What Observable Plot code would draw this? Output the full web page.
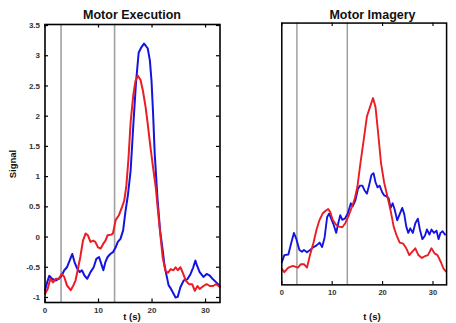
<!DOCTYPE html>
<html>
<head>
<meta charset="utf-8">
<script src="https://cdn.jsdelivr.net/npm/d3@7"></script>
<script src="https://cdn.jsdelivr.net/npm/@observablehq/plot@0.6"></script>
<style>
  html, body { margin: 0; padding: 0; background: #fff; }
  #wrap { position: relative; width: 456px; height: 323px; overflow: hidden; background: #fff;
          font-family: "Liberation Sans", Arial, Helvetica, sans-serif; }
  .panel { position: absolute; top: 0; }
  .lbl { position: absolute; font-weight: bold; color: #111; white-space: nowrap; line-height: 1; }
  .title { font-size: 12.5px; top: 9px; transform: translateX(-50%); }
  .xlab { font-size: 9.5px; top: 312px; transform: translateX(-50%); }
  .ylab { font-size: 9.5px; left: 13px; top: 164px; transform: translate(-50%, -50%) rotate(-90deg); }
</style>
</head>
<body>
<div id="wrap">
  <div class="panel" id="left"></div>
  <div class="panel" id="right" style="left:230px"></div>
  <div class="lbl title" style="left:132px">Motor Execution</div>
  <div class="lbl title" style="left:372.5px">Motor Imagery</div>
  <div class="lbl xlab" style="left:132px">t (s)</div>
  <div class="lbl xlab" style="left:372px">t (s)</div>
  <div class="lbl ylab">Signal</div>
</div>
<script>
// ---- data ----
const titles = ["Motor Execution", "Motor Imagery"];
const xTicks = [0, 10, 20, 30];
const yTicks = [-1, -0.5, 0, 0.5, 1, 1.5, 2, 2.5, 3, 3.5];
const markers = [3, 13];

// Motor Execution – blue
const execBlueT = [0, 0.4, 0.8, 1.3, 2.0, 2.6, 3.1, 3.6, 4.1, 4.6, 5.1, 5.5, 6.0, 6.5, 6.9, 7.4, 7.9, 8.5, 9.1, 9.6, 10.1, 10.5, 10.9, 11.3, 11.7, 12.2, 12.7, 13.2, 13.6, 14.1, 14.6, 15.0, 15.5, 16.0, 16.5, 17.0, 17.5, 18.0, 18.5, 18.8, 19.2, 19.6, 19.9, 20.2, 20.5, 21.0, 21.5, 22.0, 22.3, 22.7, 23.1, 23.5, 23.8, 24.4, 24.8, 25.3, 25.9, 26.6, 27.2, 27.7, 28.1, 28.4, 28.9, 29.6, 30.2, 30.8, 31.4, 32.0, 32.7];
const execBlueV = [-0.88, -0.75, -0.64, -0.69, -0.72, -0.69, -0.64, -0.55, -0.5, -0.39, -0.28, -0.41, -0.52, -0.58, -0.55, -0.64, -0.69, -0.58, -0.5, -0.36, -0.33, -0.44, -0.55, -0.41, -0.33, -0.28, -0.25, -0.17, -0.08, -0.03, 0.11, 0.4, 0.7, 1.1, 1.85, 2.55, 3.05, 3.14, 3.2, 3.17, 3.12, 2.92, 2.59, 2.04, 1.38, 0.66, 0.11, -0.22, -0.45, -0.63, -0.8, -0.85, -0.9, -1.0, -0.99, -0.83, -0.72, -0.7, -0.61, -0.5, -0.39, -0.47, -0.58, -0.66, -0.61, -0.64, -0.7, -0.75, -0.81];

// Motor Execution – red
const execRedT = [0, 0.5, 1.0, 1.5, 2.0, 2.6, 3.1, 3.6, 4.1, 4.8, 5.3, 5.7, 6.1, 6.6, 7.1, 7.6, 8.0, 8.5, 9.0, 9.4, 9.9, 10.4, 10.9, 11.3, 11.7, 12.4, 12.7, 13.2, 13.8, 14.4, 14.8, 15.2, 15.6, 16.0, 16.5, 16.9, 17.35, 17.85, 18.3, 18.8, 19.2, 19.7, 20.2, 20.7, 21.1, 21.6, 22.0, 22.5, 23.0, 23.5, 24.0, 24.4, 24.8, 25.3, 25.8, 26.3, 26.9, 27.5, 28.0, 28.5, 28.9, 29.6, 30.2, 30.8, 31.4, 32.0, 32.7];
const execRedV = [-0.94, -0.86, -0.69, -0.75, -0.69, -0.69, -0.61, -0.66, -0.8, -0.88, -0.8, -0.72, -0.55, -0.33, -0.06, 0.06, 0.03, -0.08, -0.06, -0.08, -0.17, -0.19, -0.11, -0.06, 0.03, 0.04, 0.06, 0.28, 0.36, 0.5, 0.6, 0.85, 1.3, 1.9, 2.35, 2.58, 2.67, 2.6, 2.42, 2.15, 1.87, 1.49, 1.15, 0.82, 0.44, 0.0, -0.34, -0.56, -0.59, -0.53, -0.55, -0.5, -0.55, -0.5, -0.6, -0.72, -0.78, -0.78, -0.89, -0.81, -0.86, -0.81, -0.78, -0.81, -0.81, -0.78, -0.83];

// Motor Imagery – blue
const imagBlueT = [0, 0.5, 1.3, 1.9, 2.4, 2.9, 3.5, 4.0, 4.4, 5.0, 5.6, 6.3, 6.9, 7.5, 8.0, 8.5, 9.0, 9.4, 9.8, 10.3, 10.8, 11.2, 11.6, 12.0, 12.5, 13.1, 13.7, 14.1, 14.6, 15.1, 15.5, 16.0, 16.4, 16.9, 17.3, 17.8, 18.2, 18.6, 19.0, 19.4, 19.9, 20.3, 20.8, 21.2, 21.6, 22.0, 22.4, 22.9, 23.4, 23.9, 24.3, 24.7, 25.1, 25.5, 26.0, 26.5, 27.0, 27.4, 27.9, 28.4, 28.8, 29.3, 29.7, 30.2, 30.7, 31.1, 31.5, 31.9, 32.4];
const imagBlueV = [-0.69, -0.56, -0.55, -0.34, -0.17, -0.28, -0.47, -0.5, -0.47, -0.51, -0.47, -0.42, -0.39, -0.34, -0.42, -0.25, 0.11, 0.17, 0.08, -0.03, -0.17, 0.0, 0.14, 0.06, 0.08, 0.17, 0.35, 0.3, 0.4, 0.6, 0.66, 0.66, 0.58, 0.52, 0.66, 0.85, 0.88, 0.72, 0.63, 0.66, 0.55, 0.49, 0.47, 0.44, 0.27, 0.35, 0.24, 0.05, 0.16, 0.27, 0.16, -0.06, -0.17, -0.09, -0.17, 0.0, 0.08, -0.11, -0.28, -0.22, -0.11, -0.2, -0.11, -0.17, -0.13, -0.28, -0.17, -0.14, -0.2];

// Motor Imagery – red
const imagRedT = [0, 0.5, 1.3, 2.2, 3.2, 3.8, 4.4, 5.0, 5.6, 6.3, 6.9, 7.5, 8.1, 8.7, 9.2, 9.6, 10.1, 10.8, 11.4, 12.0, 12.6, 13.3, 13.9, 14.5, 15.0, 15.6, 16.2, 16.9, 17.5, 18.1, 18.6, 19.1, 19.7, 20.3, 20.9, 21.6, 22.2, 22.8, 23.4, 24.1, 24.7, 25.3, 25.9, 26.5, 27.1, 27.8, 28.4, 29.0, 29.7, 30.3, 30.9, 31.6, 32.1, 32.6];
const imagRedV = [-0.8, -0.86, -0.78, -0.75, -0.78, -0.72, -0.72, -0.78, -0.56, -0.34, -0.11, 0.06, 0.17, 0.22, 0.25, 0.2, 0.06, -0.03, -0.06, -0.07, 0.0, 0.14, 0.28, 0.44, 0.64, 1.05, 1.43, 1.88, 2.04, 2.2, 2.04, 1.6, 1.05, 0.72, 0.49, 0.22, -0.06, -0.22, -0.34, -0.36, -0.44, -0.56, -0.5, -0.44, -0.56, -0.61, -0.58, -0.56, -0.44, -0.53, -0.56, -0.69, -0.8, -0.85];

const blue = "#1414e0";
const red = "#ea1c24";

function series(T, V) { return T.map((t, i) => ({t, v: V[i]})); }

function panel(blueData, redData, showY, width, marginLeft) {
  const height = 323, marginTop = 24, marginBottom = 21, marginRight = 10.5;
  const fw = width - marginLeft - marginRight, fh = height - marginTop - marginBottom;
  const marks = [
    Plot.ruleX(markers, {stroke: "#a0a0a0", strokeWidth: 1.6}),
    Plot.line(blueData, {x: "t", y: "v", stroke: blue, strokeWidth: 2}),
    Plot.line(redData, {x: "t", y: "v", stroke: red, strokeWidth: 2}),
    // inward tick marks
    Plot.ruleX(xTicks, {stroke: "#000", strokeWidth: 1.2, insetTop: fh - 3.5}),
    Plot.ruleX(xTicks, {stroke: "#000", strokeWidth: 1.2, insetBottom: fh - 3.5}),
    Plot.frame({stroke: "#000", strokeWidth: 1.6}),
    Plot.axisX({ticks: xTicks, tickSize: 0, tickPadding: 5, tickFormat: d => String(d), label: null,
                fontSize: 8, fontWeight: "bold", fill: "#333"})
  ];
  if (showY) {
    marks.push(
      Plot.ruleY(yTicks, {stroke: "#000", strokeWidth: 1.2, insetRight: fw - 3.5}),
      Plot.ruleY(yTicks, {stroke: "#000", strokeWidth: 1.2, insetLeft: fw - 3.5}),
      Plot.axisY({ticks: yTicks, tickSize: 0, tickPadding: 5, tickFormat: d => String(d), label: null,
                  fontSize: 8, fontWeight: "bold", fill: "#333"})
    );
  }
  return Plot.plot({
    width, height, marginTop, marginBottom, marginLeft, marginRight,
    style: {background: "transparent", fontFamily: "'Liberation Sans', Arial, sans-serif", overflow: "visible"},
    x: {domain: [0, 32.7]},
    y: {domain: [-1.083, 3.517], axis: showY ? undefined : null},
    marks
  });
}

document.getElementById("left").appendChild(panel(series(execBlueT, execBlueV), series(execRedT, execRedV), true, 230, 44.5));
document.getElementById("right").appendChild(panel(series(imagBlueT, imagBlueV), series(imagRedT, imagRedV), false, 240, 54.5));
</script>
</body>
</html>
